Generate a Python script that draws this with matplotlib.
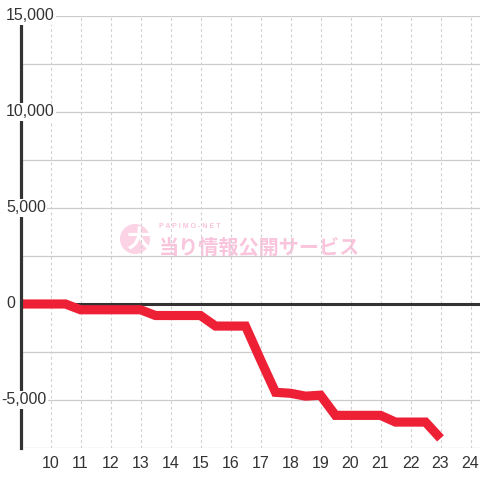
import matplotlib
matplotlib.use("Agg")
import matplotlib.pyplot as plt
from matplotlib.patches import Circle

# Data
hours = [9, 9.5, 10, 10.5, 11, 11.5, 12, 12.5, 13, 13.5, 14, 14.5, 15, 15.5, 16,
         16.5, 17, 17.5, 18, 18.5, 19, 19.5, 20, 20.5, 21, 21.5, 22, 22.5, 23]
values = [0, 0, 0, 0, -300, -300, -300, -300, -300, -600, -600, -600, -600, -1150, -1150,
          -1150, -2900, -4600, -4650, -4800, -4750, -5800, -5800, -5800, -5800, -6150, -6150, -6150, -7000]
x_ticks = list(range(10, 25))
y_labels = [15000, 10000, 5000, 0, -5000]
y_grid = [15000, 12500, 10000, 7500, 5000, 2500, 0, -2500, -5000, -7500]

W = H = 480
fig = plt.figure(figsize=(4.8, 4.8), dpi=100)
ax = fig.add_axes([20.5 / W, 32 / H, 1 - 20.5 / W, (448 - 16) / H])
ax.set_xlim(9, 9 + (480 - 20.5) / 30)
ax.set_ylim(-7500, 15000)

plt.rcParams['font.family'] = ['Liberation Sans', 'DejaVu Sans']
font = ['Liberation Sans', 'DejaVu Sans']

for s in ['top', 'right', 'bottom']:
    ax.spines[s].set_visible(False)
ax.spines['left'].set_bounds(-7500, 14583)
ax.spines['left'].set_linewidth(2.3)
ax.spines['left'].set_color('#333333')
ax.spines['left'].set_zorder(4)

# grid
for yv in y_grid:
    ax.axhline(yv, color='#cccccc', lw=0.9, zorder=1)
for xv in x_ticks:
    ax.axvline(xv, color='#d0d0d0', lw=0.8, dashes=(2.5, 2.5), zorder=1)

ax.axhline(0, color='#333333', lw=2.2, zorder=2)
ax.plot(hours, values, color='#ee2036', lw=6.6, solid_joinstyle='miter',
        solid_capstyle='butt', zorder=3)

ax.set_yticks([])
ax.set_xticks(x_ticks)
ax.tick_params(axis='x', length=0, pad=6, labelsize=11.5, labelcolor='#333333')
for lab in ax.get_xticklabels():
    lab.set_fontfamily(font)

for yv in y_labels:
    px = 1.5 if yv < 0 else 6
    xd = 9 + (px - 20.5) / 30
    ax.text(xd, yv, f"{yv:,}", ha='left', va='center', fontsize=11.5, color='#333333',
            family=font, clip_on=False, zorder=5,
            bbox=dict(boxstyle='square,pad=0.1', fc='white', ec='none'))

# watermark
def fx(x):
    return x / W

def fy(y):
    return 1 - y / H

circ = Circle((fx(135), fy(239)), 15 / W, transform=fig.transFigure,
              fc='#fcd3e5', ec='none', zorder=0.5)
ax.add_patch(circ)
circ.set_clip_on(False)
ax.text(fx(139), fy(240), '大', transform=fig.transFigure, ha='center', va='center',
        fontsize=18, fontweight='bold', color='white', family=['Noto Sans CJK JP'], zorder=0.6)
ax.text(fx(259), fy(247), '当り情報公開サービス', transform=fig.transFigure, ha='center',
        va='center', fontsize=14.5, fontweight='bold', color='#f9c4dc',
        family=['Noto Sans CJK JP'], zorder=0.6)
ax.text(fx(190), fy(227), 'P A P I M O - N E T', transform=fig.transFigure, ha='center',
        va='center', fontsize=5, fontweight='bold', color='#f9c4dc', family=font, zorder=0.6)

fig.savefig('out.png', dpi=100)
